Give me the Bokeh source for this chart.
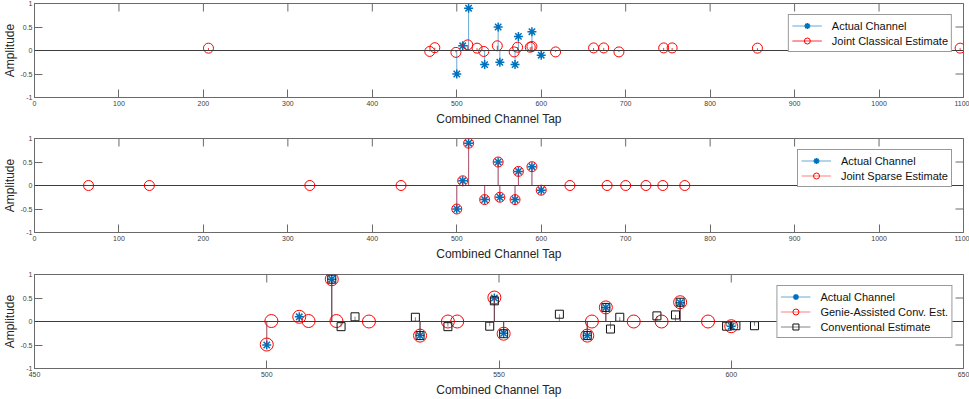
import math
from bokeh.plotting import figure
from bokeh.models import (Span, FixedTicker, NumeralTickFormatter,
                          Legend, LegendItem, Range1d)
from bokeh.layouts import column
from bokeh.embed import file_html
from bokeh.resources import INLINE

# ---------------- data ----------------
actual_tap = [500, 507, 514, 533, 549, 551, 569, 573, 589, 600]
actual_amp = [-0.5, 0.1, 0.9, -0.3, 0.5, -0.25, -0.3, 0.3, 0.4, -0.1]

classical_tap = [206, 468, 474, 499, 513, 524, 532, 548, 568, 572, 587, 589,
                 617, 662, 674, 692, 745, 755, 856, 1096]
classical_amp = [0.05, -0.02, 0.06, -0.04, 0.12, 0.05, -0.02, 0.1, -0.03, 0.07,
                 0.07, 0.085, -0.03, 0.055, 0.055, -0.03, 0.055, 0.055, 0.05, 0.05]

sparse_tap = [64, 136, 326, 434, 500, 507, 514, 533, 549, 551, 569, 573, 589,
              600, 634, 678, 700, 724, 744, 770]
sparse_amp = [0.0, 0.0, 0.0, 0.0, -0.5, 0.1, 0.9, -0.3, 0.5, -0.25, -0.3, 0.3,
              0.4, -0.1, 0.0, 0.0, 0.0, 0.0, 0.0, 0.0]

genie_tap = [500, 501, 507, 509, 514, 515, 522, 533, 539, 541, 549, 551, 569,
             570, 573, 579, 585, 589, 595, 600]
genie_amp = [-0.49, 0.01, 0.1, 0.01, 0.9, 0.01, 0.0, -0.3, 0.0, 0.0, 0.51,
             -0.26, -0.3, 0.0, 0.3, 0.0, 0.0, 0.41, 0.0, -0.1]

conv_tap = [514, 516, 519, 532, 533, 539, 548, 549, 551, 563, 569, 573, 574,
            576, 584, 588, 589, 599, 601, 605]
conv_amp = [0.9, -0.11, 0.1, 0.09, -0.3, -0.11, -0.1, 0.44, -0.26, 0.155, -0.3,
            0.3, -0.16, 0.09, 0.12, 0.14, 0.41, -0.1, -0.09, -0.09]

x_ticks_full = [0, 100, 200, 300, 400, 500, 600, 700, 800, 900, 1000, 1100]
x_ticks_zoom = [450, 500, 550, 600, 650]
y_ticks = [-1, -0.5, 0, 0.5, 1]

BLUE = "#0072BD"
RED = "#FF0000"
AX = "#6a6a6a"
FONT = "Liberation Sans"
TICK = 8


def make_fig(xr, xticks, height, bottom):
    p = figure(width=969, height=height, output_backend="svg", toolbar_location=None,
               x_range=Range1d(*xr), y_range=Range1d(-1, 1),
               min_border_top=3, min_border_bottom=bottom, min_border_left=0,
               min_border_right=6)
    p.grid.visible = False
    p.outline_line_color = AX
    p.background_fill_color = "white"
    for ax in (p.xaxis[0], p.yaxis[0]):
        ax.major_tick_in = TICK
        ax.major_tick_out = 0
        ax.minor_tick_in = 0
        ax.minor_tick_out = 0
        ax.axis_line_color = AX
        ax.major_tick_line_color = AX
        ax.major_label_text_font = FONT
        ax.major_label_text_font_size = "7px"
        ax.major_label_text_color = "#404040"
        ax.major_label_standoff = 3
        ax.axis_label_text_font = FONT
        ax.axis_label_text_font_size = "12px"
        ax.axis_label_text_font_style = "normal"
        ax.axis_label_text_color = "#262626"
        ax.axis_label_standoff = 3
    p.yaxis.major_label_standoff = 2
    p.yaxis.axis_label_standoff = 0
    p.xaxis.ticker = FixedTicker(ticks=xticks)
    p.yaxis.ticker = FixedTicker(ticks=y_ticks)
    p.yaxis.formatter = NumeralTickFormatter(format="0.[0]")
    p.xaxis.axis_label = "Combined Channel Tap"
    p.yaxis.axis_label = "Amplitude"
    # box ticks on top and right edges (clipped half-markers)
    p.scatter(xticks, [y_ticks[-1]] * len(xticks), marker="dash", angle=math.pi / 2,
              size=2 * TICK, line_color=AX, line_width=1)
    p.scatter([xr[1]] * len(y_ticks), y_ticks, marker="dash",
              size=2 * TICK, line_color=AX, line_width=1)
    p.add_layout(Span(location=0, dimension="width", line_color="#3c3c3c", line_width=1))
    return p


def stems(p, xs, ys, color, alpha=1.0, width=1):
    return p.segment(x0=xs, y0=[0] * len(xs), x1=xs, y1=ys, line_color=color,
                     line_width=width, line_alpha=alpha)


def add_legend(p, items):
    lg = Legend(items=items, location="top_right", margin=11,
                label_text_font=FONT, label_text_font_size="11px",
                label_text_color="#111111", border_line_color="#333333",
                border_line_width=1, background_fill_alpha=1.0,
                padding=3, spacing=0, glyph_width=30, glyph_height=15,
                label_height=15, label_standoff=10)
    p.add_layout(lg, "center")


# ---------------- panel 1 ----------------
p1 = make_fig((0, 1100), x_ticks_full, 135, 38)
s1 = stems(p1, actual_tap, actual_amp, BLUE, 0.6)
m1 = p1.scatter(actual_tap, actual_amp, marker="asterisk", size=9, line_color=BLUE, line_width=1.5)
s2 = stems(p1, classical_tap, classical_amp, RED, 0.8)
m2 = p1.scatter(classical_tap, classical_amp, marker="circle", size=10, fill_color=None,
                line_color=RED, line_width=1)
add_legend(p1, [LegendItem(label="Actual Channel", renderers=[s1, m1]),
                LegendItem(label="Joint Classical Estimate", renderers=[s2, m2])])

# ---------------- panel 2 ----------------
p2 = make_fig((0, 1100), x_ticks_full, 136, 39)
t1 = stems(p2, actual_tap, actual_amp, BLUE, 0.6)
n1 = p2.scatter(actual_tap, actual_amp, marker="asterisk", size=9, line_color=BLUE, line_width=1.5)
t2 = stems(p2, sparse_tap, sparse_amp, RED, 0.5)
n2 = p2.scatter(sparse_tap, sparse_amp, marker="circle", size=10, fill_color=None,
                line_color=RED, line_width=1)
add_legend(p2, [LegendItem(label="Actual Channel", renderers=[t1, n1]),
                LegendItem(label="Joint Sparse Estimate", renderers=[t2, n2])])

# ---------------- panel 3 ----------------
p3 = make_fig((450, 650), x_ticks_zoom, 128, 31)
u1 = stems(p3, actual_tap, actual_amp, BLUE, 0.6)
v1 = p3.scatter(actual_tap, actual_amp, marker="asterisk", size=9, line_color=BLUE, line_width=1.5)
u2 = stems(p3, genie_tap, genie_amp, RED, 0.5)
v2 = p3.scatter(genie_tap, genie_amp, marker="circle", size=13, fill_color=None,
                line_color=RED, line_width=1)
u3 = stems(p3, conv_tap, conv_amp, "#333333", 0.6)
v3 = p3.scatter(conv_tap, conv_amp, marker="square", size=8, fill_color=None,
                line_color="#111111", line_width=1)
add_legend(p3, [LegendItem(label="Actual Channel", renderers=[u1, v1]),
                LegendItem(label="Genie-Assisted Conv. Est.", renderers=[u2, v2]),
                LegendItem(label="Conventional Estimate", renderers=[u3, v3])])

layout = column(p1, p2, p3, spacing=0)
open("out.html", "w").write(file_html(layout, INLINE))
